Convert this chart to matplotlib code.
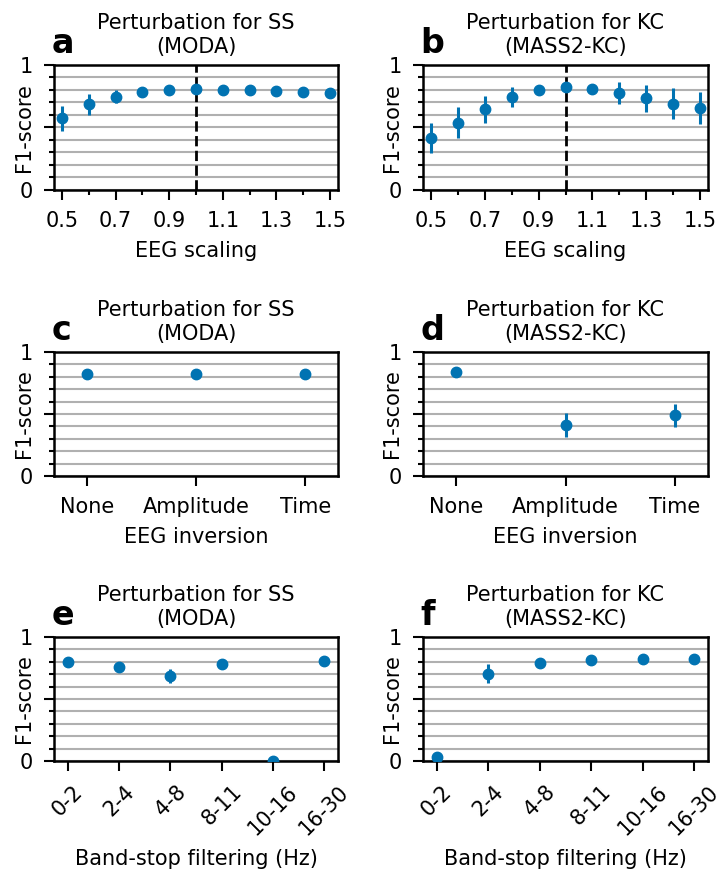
import numpy as np
import matplotlib.pyplot as plt
from matplotlib.ticker import MultipleLocator

blue = "#0173B2"

# EEG scaling
scaling = [0.5, 0.6, 0.7, 0.8, 0.9, 1.0, 1.1, 1.2, 1.3, 1.4, 1.5]
ss_scale_mean = [0.574, 0.686, 0.747, 0.787, 0.800, 0.806, 0.803, 0.798, 0.793, 0.785, 0.779]
ss_scale_err = [0.100, 0.085, 0.055, 0.020, 0.015, 0.015, 0.015, 0.012, 0.012, 0.012, 0.012]
kc_scale_mean = [0.415, 0.537, 0.646, 0.742, 0.803, 0.827, 0.811, 0.777, 0.734, 0.691, 0.654]
kc_scale_err = [0.117, 0.124, 0.107, 0.082, 0.037, 0.030, 0.030, 0.087, 0.109, 0.121, 0.126]
scale_ticks = [0.5, 0.7, 0.9, 1.1, 1.3, 1.5]

# EEG inversion
inversion = ["None", "Amplitude", "Time"]
ss_inv_mean = [0.822, 0.820, 0.820]
ss_inv_err = [0.010, 0.010, 0.010]
kc_inv_mean = [0.840, 0.411, 0.489]
kc_inv_err = [0.010, 0.095, 0.095]

# Band-stop filtering
bands = ["0-2", "2-4", "4-8", "8-11", "10-16", "16-30"]
ss_band_mean = [0.801, 0.760, 0.688, 0.780, 0.003, 0.804]
ss_band_err = [0.012, 0.015, 0.056, 0.030, 0.003, 0.012]
kc_band_mean = [0.035, 0.704, 0.790, 0.817, 0.823, 0.823]
kc_band_err = [0.010, 0.075, 0.040, 0.025, 0.025, 0.030]

plt.rcParams["font.family"] = "DejaVu Sans"
fig = plt.figure(figsize=(7.17, 8.71), dpi=100)
W, H = 717, 871
FS = 15


def make_ax(l, r, t, b):
    return fig.add_axes([l / W, 1 - b / H, (r - l) / W, (b - t) / H])


def style(ax, title, letter):
    ax.set_ylim(0, 1)
    ax.set_yticks([0, 0.5, 1])
    ax.set_yticklabels(["0", "", "1"])
    ax.yaxis.set_minor_locator(MultipleLocator(0.1))
    ax.grid(True, axis="y", which="both", color="#b0b0b0", linewidth=1.5, zorder=0)
    ax.set_axisbelow(True)
    ax.set_ylabel("F1-score", fontsize=FS)
    ax.yaxis.set_label_coords(-0.072, 0.5)
    ax.tick_params(axis="both", which="major", labelsize=FS, length=7.5, width=1.5, pad=7.5)
    ax.tick_params(axis="both", which="minor", length=3.5, width=1.5)
    for s in ax.spines.values():
        s.set_linewidth(1.8)
    ax.set_title(title, fontsize=FS, pad=9)
    ax.text(-0.01, 1.096, letter, transform=ax.transAxes, fontsize=24,
            fontweight="bold", ha="left", va="baseline")


def pts(ax, x, m, e):
    ax.errorbar(x, m, yerr=e, fmt="o", color=blue, markersize=7.5,
                elinewidth=2.2, capsize=0, zorder=3)


lefts = [(54, 338), (423, 708)]
rows = [(65, 190), (352, 476), (637, 761)]
titles = ["Perturbation for SS\n(MODA)", "Perturbation for KC\n(MASS2-KC)"]
letters = [["a", "b"], ["c", "d"], ["e", "f"]]

scale_data = [(ss_scale_mean, ss_scale_err), (kc_scale_mean, kc_scale_err)]
inv_data = [(ss_inv_mean, ss_inv_err), (kc_inv_mean, kc_inv_err)]
band_data = [(ss_band_mean, ss_band_err), (kc_band_mean, kc_band_err)]

for j in range(2):
    l, r = lefts[j]
    # row 1: scaling
    ax = make_ax(l, r, *rows[0])
    style(ax, titles[j], letters[0][j])
    pts(ax, scaling, *scale_data[j])
    ax.axvline(1.0, color="black", linestyle="--", linewidth=2, zorder=2)
    ax.set_xlim(0.47, 1.53)
    ax.set_xticks(scale_ticks)
    ax.set_xticklabels([f"{v:.1f}" for v in scale_ticks])
    ax.set_xticks([v for v in scaling if v not in scale_ticks], minor=True)
    ax.set_xlabel("EEG scaling", fontsize=FS, labelpad=7)

    # row 2: inversion
    ax = make_ax(l, r, *rows[1])
    style(ax, titles[j], letters[1][j])
    xi = np.arange(len(inversion))
    pts(ax, xi, *inv_data[j])
    ax.set_xlim(-0.3, 2.3)
    ax.set_xticks(xi)
    ax.set_xticklabels(inversion)
    ax.set_xlabel("EEG inversion", fontsize=FS, labelpad=7)

    # row 3: band-stop
    ax = make_ax(l, r, *rows[2])
    style(ax, titles[j], letters[2][j])
    xb = np.arange(len(bands))
    pts(ax, xb, *band_data[j])
    ax.set_xlim(-0.27, 5.27)
    ax.set_xticks(xb)
    ax.set_xticklabels(bands, rotation=45)
    ax.set_xlabel("Band-stop filtering (Hz)", fontsize=FS, labelpad=7)

fig.savefig("out.png", dpi=100)
